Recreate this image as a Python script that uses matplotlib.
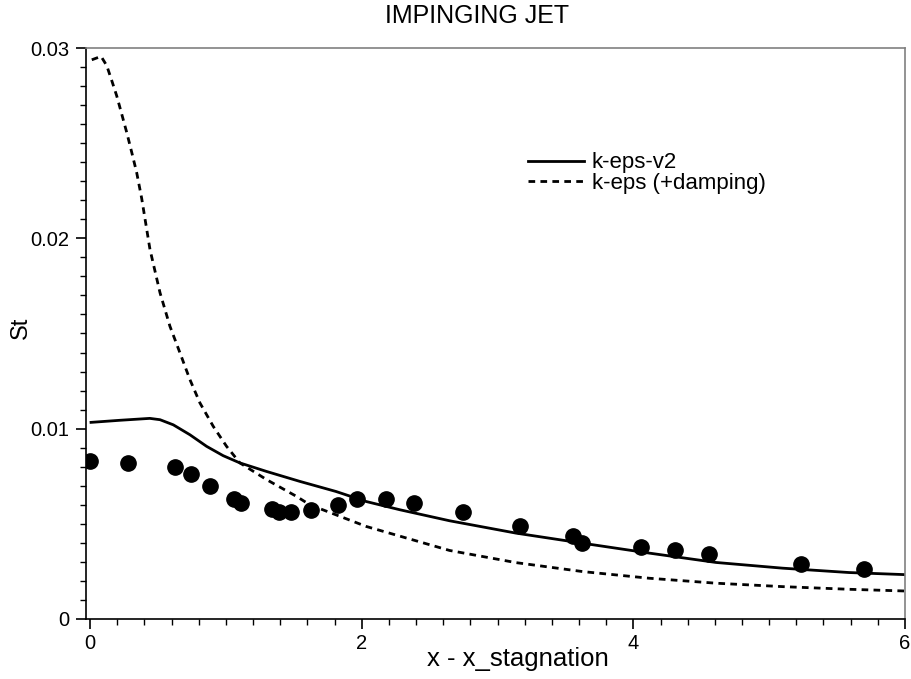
import numpy as np
import matplotlib.pyplot as plt
from matplotlib.ticker import MultipleLocator, FixedFormatter, FixedLocator

plt.rcParams['font.family'] = ['Liberation Sans', 'DejaVu Sans']

# experimental points
x_exp = [0.0, 0.277, 0.625, 0.745, 0.885, 1.061, 1.108, 1.338, 1.39, 1.478, 1.625,
         1.826, 1.963, 2.176, 2.387, 2.745, 3.164, 3.556, 3.622, 4.056, 4.306,
         4.554, 5.235, 5.696]
st_exp = [0.0083, 0.00821, 0.0080, 0.00761, 0.0070, 0.00632, 0.00609, 0.0058,
          0.0056, 0.0056, 0.0057, 0.0060, 0.00632, 0.00632, 0.0061, 0.00562,
          0.00491, 0.00438, 0.0040, 0.0038, 0.0036, 0.0034, 0.0029, 0.0026]

# k-eps-v2
x_v2 = [0.007, 0.22, 0.44, 0.515, 0.613, 0.735, 0.858, 0.98, 1.103, 1.30, 1.544,
        1.81, 2.034, 2.28, 2.647, 3.137, 3.627, 4.118, 4.608, 5.098, 5.588, 6.0]
st_v2 = [0.01033, 0.01044, 0.01054, 0.01047, 0.0102, 0.00968, 0.00907, 0.00858,
         0.0082, 0.00775, 0.00723, 0.0067, 0.00617, 0.00574, 0.00516, 0.00451,
         0.00398, 0.00346, 0.00297, 0.00267, 0.00244, 0.00233]

# k-eps (+damping)
x_ke = [0.0125, 0.081, 0.123, 0.16, 0.196, 0.233, 0.27, 0.307, 0.343, 0.38, 0.441,
        0.515, 0.588, 0.662, 0.735, 0.809, 0.907, 1.005, 1.103, 1.30, 1.52, 1.618,
        2.034, 2.647, 3.137, 3.627, 4.118, 4.608, 5.098, 5.588, 6.0]
st_ke = [0.02938, 0.02956, 0.02907, 0.02828, 0.02749, 0.02653, 0.02556, 0.02451,
         0.02346, 0.0221, 0.01942, 0.01714, 0.01538, 0.01398, 0.01258, 0.01135,
         0.01012, 0.00907, 0.0082, 0.00732, 0.00644, 0.0060, 0.00486, 0.0036,
         0.00296, 0.00249, 0.00214, 0.00188, 0.0017, 0.00156, 0.00147]

fig = plt.figure(figsize=(9.11, 6.79), dpi=100)
ax = fig.add_axes([0.0944, 0.0884, 0.899, 0.8409])

ax.plot(x_v2, st_v2, color='black', lw=2.0, label='k-eps-v2')
ax.plot(x_ke, st_ke, color='black', lw=2.0, dashes=(2.4, 1.9), label='k-eps (+damping)')
ax.plot(x_exp, st_exp, 'o', color='black', ms=11, label='_nolegend_')

ax.set_xlim(-0.03, 6)
ax.set_ylim(0, 0.03)
ax.xaxis.set_major_locator(FixedLocator([0, 2, 4, 6]))
ax.xaxis.set_major_formatter(FixedFormatter(['0', '2', '4', '6']))
ax.xaxis.set_minor_locator(MultipleLocator(0.2))
ax.yaxis.set_major_locator(FixedLocator([0, 0.01, 0.02, 0.03]))
ax.yaxis.set_major_formatter(FixedFormatter(['0', '0.01', '0.02', '0.03']))
ax.yaxis.set_minor_locator(MultipleLocator(0.001))
ax.tick_params(which='major', length=7, width=1.2, labelsize=14.5, direction='out')
ax.tick_params(which='minor', length=4, width=1.0, direction='out')
ax.tick_params(axis='x', pad=3.5)
ax.tick_params(axis='y', pad=5)

for s in ['top', 'right']:
    ax.spines[s].set_color('#808080')
    ax.spines[s].set_linewidth(1.2)
for s in ['left', 'bottom']:
    ax.spines[s].set_linewidth(1.2)

ax.set_xlabel('x - x_stagnation', fontsize=18.5)
ax.xaxis.set_label_coords(0.527, -0.049)
ax.set_ylabel('St', fontsize=17)
ax.yaxis.set_label_coords(-0.066, 0.51)
fig.text(477 / 911, 1 - 16 / 679, 'IMPINGING JET', ha='center', va='center', fontsize=18)

ax.legend(frameon=False, fontsize=16, loc='upper left', bbox_to_anchor=(0.540, 0.817),
          handlelength=2.5, handletextpad=0.35, labelspacing=-0.02, borderpad=0,
          borderaxespad=0)

fig.savefig('out.png', dpi=100)
